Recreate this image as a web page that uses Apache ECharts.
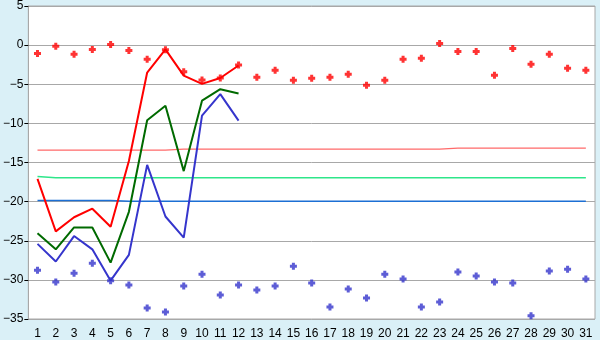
<!DOCTYPE html>
<html>
<head>
<meta charset="utf-8">
<script src="https://cdn.jsdelivr.net/npm/echarts@6/dist/echarts.min.js"></script>
<style>
html,body{margin:0;padding:0;background:#daf0f7;}
#c{width:600px;height:340px;}
</style>
</head>
<body>
<div id="c"></div>
<script>
var days = ['1','2','3','4','5','6','7','8','9','10','11','12','13','14','15','16','17','18','19','20','21','22','23','24','25','26','27','28','29','30','31'];
var yTicks = [5, 0, -5, -10, -15, -20, -25, -30, -35];

var redLine   = [-17.1, -23.8, -22.0, -20.9, -23.2, -14.8, -3.5, -0.55, -3.9, -4.95, -4.2, -2.6];
var greenLine = [-24.05, -26.1, -23.3, -23.3, -27.8, -21.3, -9.6, -7.75, -16.1, -7.1, -5.63, -6.18];
var blueLine  = [-25.4, -27.65, -24.4, -26.1, -30.1, -26.8, -15.3, -21.9, -24.6, -9.0, -6.27, -9.65];

var redPoints = [-1.06, -0.13, -1.18, -0.55, 0.08, -0.68, -1.82, -0.59, -3.39, -4.45, -4.2, -2.55, -4.1, -3.22, -4.49, -4.24, -4.1, -3.73, -5.12, -4.49, -1.82, -1.69, 0.21, -0.8, -0.8, -3.85, -0.42, -2.45, -1.18, -2.96, -3.22];
var bluePoints = [-28.76, -30.28, -29.14, -27.87, -30.1, -30.66, -33.58, -34.09, -30.79, -29.27, -31.94, -30.66, -31.3, -30.79, -28.25, -30.41, -33.46, -31.17, -32.31, -29.27, -29.9, -33.46, -32.82, -29.0, -29.52, -30.28, -30.41, -34.6, -28.88, -28.63, -29.9];

var salmonRef = [-13.42, -13.42, -13.42, -13.42, -13.42, -13.42, -13.42, -13.42, -13.3, -13.3, -13.3, -13.3, -13.3, -13.3, -13.3, -13.3, -13.3, -13.3, -13.3, -13.3, -13.3, -13.3, -13.3, -13.17, -13.17, -13.17, -13.17, -13.17, -13.17, -13.17, -13.17];
var greenRef  = [-16.8, -16.94, -16.94, -16.94, -16.94, -16.94, -16.94, -16.94, -16.94, -16.94, -16.94, -16.94, -16.94, -16.94, -16.94, -16.94, -16.94, -16.94, -16.94, -16.94, -16.94, -16.94, -16.94, -16.94, -16.94, -16.94, -16.94, -16.94, -16.94, -16.94, -16.94];
var blueRef   = [-19.86, -19.86, -19.86, -19.86, -19.86, -19.95, -19.95, -19.95, -19.95, -19.95, -19.95, -19.95, -19.95, -19.95, -19.95, -19.95, -19.95, -19.95, -19.95, -19.95, -19.95, -19.95, -19.95, -19.95, -19.95, -19.95, -19.95, -19.95, -19.95, -19.95, -19.95];

var plusPath = 'path://M2,0H5V2H7V5H5V7H2V5H0V2H2Z';
var font = 'Liberation Sans, Arial, sans-serif';

var chart = echarts.init(document.getElementById('c'), null, {renderer: 'canvas'});

function refLine(data, color, width) {
  return {
    type: 'line', data: data, symbol: 'none', silent: true, z: 1,
    lineStyle: {color: color, width: width}
  };
}
function mainLine(data, color) {
  return {
    type: 'line', data: data, symbol: 'none', z: 3,
    lineStyle: {color: color, width: 2}
  };
}
function pts(data, color) {
  return {
    type: 'scatter', data: data, symbol: plusPath, symbolSize: 7, z: 4,
    itemStyle: {color: color}
  };
}

chart.setOption({
  animation: false,
  backgroundColor: '#daf0f7',
  grid: {
    left: 25, right: 5, top: 5, bottom: 20,
    show: true, backgroundColor: '#ffffff', borderColor: '#a8a8a8', borderWidth: 1
  },
  xAxis: {
    type: 'category',
    data: days,
    boundaryGap: true,
    axisLine: {lineStyle: {color: '#a8a8a8', width: 1}},
    axisTick: {alignWithLabel: true, length: 6, lineStyle: {color: '#000'}},
    axisLabel: {color: '#000', fontFamily: font, fontSize: 12, margin: 9, interval: 0},
    splitLine: {show: false}
  },
  yAxis: {
    type: 'value',
    min: -35, max: 5, interval: 5,
    axisLine: {show: true, lineStyle: {color: '#a8a8a8'}},
    axisTick: {show: true, length: 4, lineStyle: {color: '#000'}},
    axisLabel: {
      color: '#000', fontFamily: font, fontSize: 12, margin: 5,
      formatter: function (v) { return v < 0 ? '\u2212' + Math.abs(v) : String(v); }
    },
    splitLine: {show: true, lineStyle: {color: '#a8a8a8', width: 1}}
  },
  series: [
    refLine(salmonRef, '#ff6a6a', 1.2),
    refLine(greenRef, '#2ee68a', 1.5),
    refLine(blueRef, '#1c6fd4', 1.5),
    mainLine(redLine, '#ff0000'),
    mainLine(greenLine, '#006a00'),
    mainLine(blueLine, '#3535cc'),
    pts(redPoints, '#ff0000'),
    pts(bluePoints, '#3535cc')
  ]
});
</script>
</body>
</html>
